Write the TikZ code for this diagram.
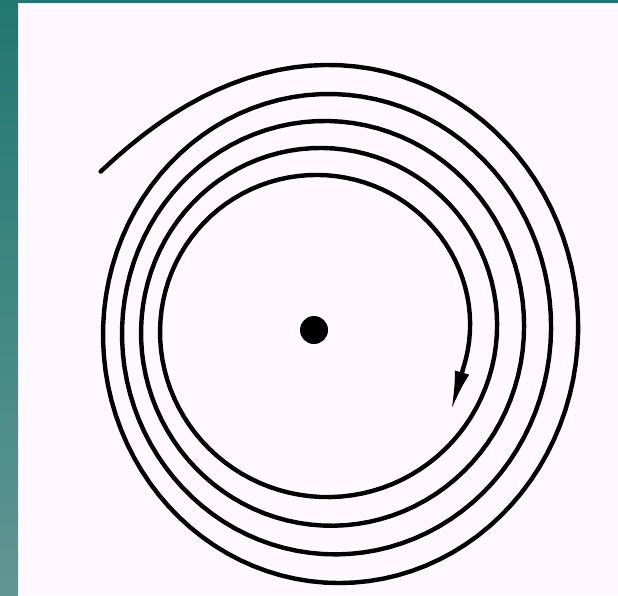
\documentclass[tikz,border=0pt]{standalone}
\usetikzlibrary{arrows.meta}

\definecolor{tealtop}{RGB}{33,119,114}
\definecolor{tealbot}{RGB}{96,150,148}
\definecolor{paper}{RGB}{255,249,255}

\begin{document}
\begin{tikzpicture}[x=1pt, y=-1pt, line width=4.4pt]

    % Draw background
    \useasboundingbox (0,0) rectangle (618,595);
    \fill [paper] (0,0) rectangle (618,595);
    \shade [top color=tealtop, bottom color=tealbot] (0,0) rectangle (18,595);
    \fill [tealtop] (0,0) rectangle (618,3);

    % Draw centre
    \coordinate (P) at (314,330);
    \fill [black] (P) circle [radius=14];

    % Draw spiral
    \coordinate (T) at (451,411);
    \draw [-{Latex[length=40pt,width=15pt]}, line cap=round]
        plot [domain=0:1598, samples=450, variable=\t]
        ({337.4-0.0111*\t+(251.6-0.0639*\t+34*exp(-\t/25))*cos(146-\t)},
         {332.3-0.0023*\t-(269.5-0.0773*\t+18*exp(-\t/25))*sin(146-\t)})
        -- (T);

\end{tikzpicture}
\end{document}
